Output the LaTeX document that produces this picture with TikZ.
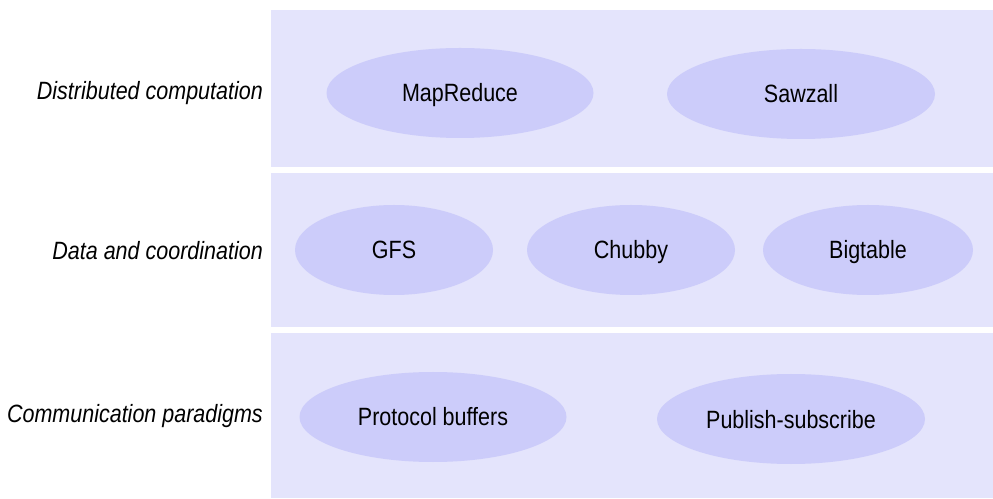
\documentclass[tikz,border=0pt]{standalone}
\usepackage{fontspec}
\setmainfont{Liberation Sans}[FakeStretch=0.86]
\usetikzlibrary{shapes.geometric}
\definecolor{layerfill}{RGB}{228,228,252}
\definecolor{compfill}{RGB}{204,204,250}
\begin{document}
\begin{tikzpicture}[x=1pt,y=1pt,
  layer/.style={fill=layerfill,draw=none},
  comp/.style={ellipse,fill=compfill,draw=none,inner sep=0pt,minimum height=90pt,
    text height=22pt,text depth=4pt,
    font=\fontsize{25}{29}\selectfont},
  lbl/.style={anchor=east,inner sep=0pt,text height=22pt,text depth=4pt,
    font=\fontsize{25}{29}\selectfont\itshape}]
\useasboundingbox (0,0) rectangle (993,498);
\fill[layerfill] (271,331) rectangle (993,488);
\fill[layerfill] (271,171) rectangle (993,325);
\fill[layerfill] (271,0) rectangle (993,165);
\node[lbl] (l1) at (263,407) {Distributed computation};
\node[lbl] (l2) at (263,247) {Data and coordination};
\node[lbl] (l3) at (263,84) {Communication paradigms};
\node[comp,minimum width=267pt] (mr) at (460,405) {MapReduce};
\node[comp,minimum width=268pt] (sz) at (801,404) {Sawzall};
\node[comp,minimum width=198pt] (gfs) at (394,248) {GFS};
\node[comp,minimum width=208pt] (ch) at (631,248) {Chubby};
\node[comp,minimum width=210pt] (bt) at (868,248) {Bigtable};
\node[comp,minimum width=267pt] (pb) at (433,81) {Protocol buffers};
\node[comp,minimum width=268pt] (ps) at (791,79) {Publish-subscribe};
\end{tikzpicture}
\end{document}
